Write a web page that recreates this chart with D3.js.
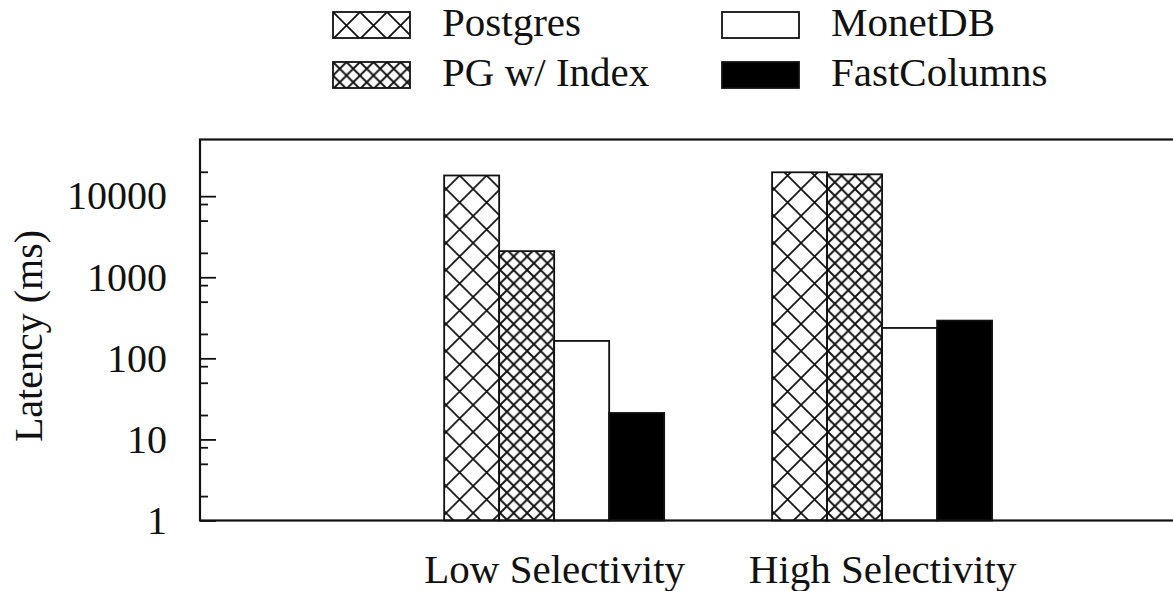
<!DOCTYPE html>
<html>
<head>
<meta charset="utf-8">
<script src="https://cdn.jsdelivr.net/npm/d3@7"></script>
<style>
  body { margin: 0; background: #fff; }
  text { font-family: "Liberation Serif", "Times New Roman", serif; fill: #111; }
</style>
</head>
<body>
<svg id="canvas"></svg>
<script>
let width = 1173,
height = 591

// data
let categories = ['Low Selectivity', 'High Selectivity']
let series = ['Postgres', 'PG w/ Index', 'MonetDB', 'FastColumns']
let postgres = [18000, 19700]
let pgIndex = [2100, 18600]
let monetdb = [164, 237]
let fastColumns = [21.2, 292]
let majorTicks = [1, 10, 100, 1000, 10000]
let minorTicks = [2, 5, 8, 20, 50, 80, 200, 500, 800, 2000, 5000, 8000, 20000]

let values = [postgres, pgIndex, monetdb, fastColumns]

let canvas = d3.select('#canvas')
.attr('width', width)
.attr('height', height)

let defs = canvas.append('defs')

// hatch patterns
let hatch = (id, size, sw) => {
    let p = defs.append('pattern')
    .attr('id', id)
    .attr('patternUnits', 'userSpaceOnUse')
    .attr('width', size)
    .attr('height', size)
    p.append('rect').attr('width', size).attr('height', size).attr('fill', '#fff')
    p.append('path')
    .attr('d', `M0,0L${size},${size}M0,${size}L${size},0`)
    .attr('stroke', '#111')
    .attr('stroke-width', sw)
}
hatch('cross', 27, 1.7)
hatch('crossDense', 13.5, 1.9)

let fills = ['url(#cross)', 'url(#crossDense)', '#fff', '#000']

let plotLeft = 200, plotTop = 139.5, plotBottom = 520.5, plotRight = 1210

let y = d3.scaleLog().domain([1, 50000]).range([plotBottom, plotTop])
let x = d3.scaleLinear().domain([-1.08, 2]).range([plotLeft, plotRight])
let inner = d3.scaleBand().domain(series).range([-110, 110])

// bars
let groups = canvas.selectAll('g.group')
.data(categories)
.join('g')
.attr('class', 'group')
.attr('transform', (d, i) => `translate(${x(i)},0)`)

groups.selectAll('rect')
.data((d, i) => series.map((s, j) => ({ s: s, j: j, v: values[j][i] })))
.join('rect')
.attr('x', (d) => inner(d.s))
.attr('width', inner.bandwidth())
.attr('y', (d) => y(d.v))
.attr('height', (d) => plotBottom - y(d.v))
.attr('fill', (d) => fills[d.j])
.attr('stroke', '#111')
.attr('stroke-width', 1.8)

// y axis
let yAxis = canvas.append('g')
.attr('transform', `translate(${plotLeft},0)`)
.call(d3.axisLeft(y).tickValues(majorTicks).tickFormat(d3.format('d')).tickSize(-16).tickPadding(33))
yAxis.select('.domain').remove()
yAxis.selectAll('line').attr('stroke', '#111').attr('stroke-width', 1.8)
yAxis.selectAll('text').style('font-size', '40px').attr('fill', '#111')

let yMinor = canvas.append('g')
.attr('transform', `translate(${plotLeft},0)`)
.call(d3.axisLeft(y).tickValues(minorTicks).tickFormat('').tickSize(-8))
yMinor.select('.domain').remove()
yMinor.selectAll('line').attr('stroke', '#111').attr('stroke-width', 1.8)

// x axis labels
let xAxis = canvas.append('g')
.attr('transform', `translate(0,${plotBottom})`)
.call(d3.axisBottom(x).tickValues([0, 1]).tickFormat((d) => categories[d]).tickSize(0))
xAxis.select('.domain').remove()
xAxis.selectAll('text')
.attr('y', 62)
.attr('dy', 0)
.style('font-size', '41px')
.attr('fill', '#111')

// frame
canvas.append('rect')
.attr('x', plotLeft)
.attr('y', plotTop)
.attr('width', plotRight - plotLeft)
.attr('height', plotBottom - plotTop)
.attr('fill', 'none')
.attr('stroke', '#111')
.attr('stroke-width', 2.2)

// y label
canvas.append('text')
.attr('transform', 'translate(42,336) rotate(-90)')
.attr('text-anchor', 'middle')
.style('font-size', '40px')
.text('Latency (ms)')

// legend
let legend = canvas.selectAll('g.legend')
.data(series)
.join('g')
.attr('class', 'legend')
.attr('transform', (d, i) => `translate(${333 + Math.floor(i / 2) * 389},${12 + (i % 2) * 50})`)

legend.append('rect')
.attr('width', 77)
.attr('height', 26)
.attr('fill', (d, i) => fills[i])
.attr('stroke', '#111')
.attr('stroke-width', 1.8)

legend.append('text')
.attr('x', 109)
.attr('y', 24)
.style('font-size', '41px')
.text((d) => d)
</script>
</body>
</html>
